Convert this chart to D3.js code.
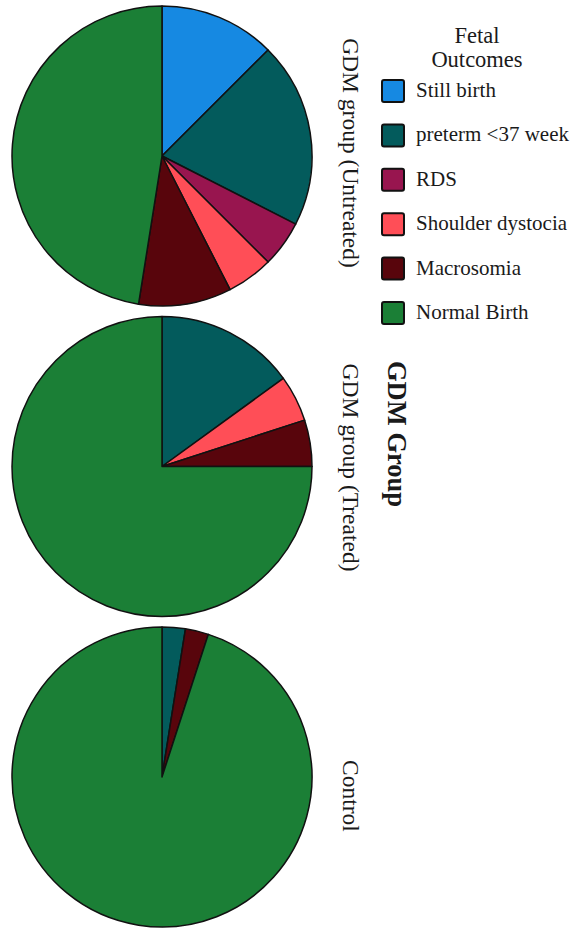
<!DOCTYPE html>
<html>
<head>
    <meta charset="utf-8">
    <title>Fetal Outcomes by GDM Group</title>
    <script src="https://d3js.org/d3.v7.min.js"></script>
    <style>
        body { margin: 0; background: #fff; }
    </style>
</head>
<body>
    <div id="chart"></div>

    <script>
        const serif = "'Liberation Serif', 'Times New Roman', Times, serif";

        // outcome categories and colours
        const outcomes = ["Still birth", "preterm <37 week", "RDS", "Shoulder dystocia", "Macrosomia", "Normal Birth"];
        const colors = ["#1689e2", "#035b5c", "#98154f", "#ff4e57", "#58050c", "#1b7f36"];

        // groups (one pie each), counts per outcome
        const groups = ["GDM group (Untreated)", "GDM group (Treated)", "Control"];
        const untreated = [5, 8, 2, 2, 4, 19];
        const treated = [0, 6, 0, 2, 2, 30];
        const control = [0, 1, 0, 0, 1, 38];
        const series = [untreated, treated, control];

        const width = 573, height = 928;
        const radius = 150;

        const svg = d3.select("#chart")
            .append("svg")
            .attr("width", width)
            .attr("height", height)
            .style("font-family", serif);

        // vertical position of each pie
        const y = d3.scalePoint()
            .domain(groups)
            .range([156, 777]);

        const color = d3.scaleOrdinal()
            .domain(outcomes)
            .range(colors);

        const pie = d3.pie()
            .sort(null)
            .value(d => d.value);

        const arc = d3.arc()
            .innerRadius(0)
            .outerRadius(radius);

        groups.forEach(function(g, i) {
            const rows = outcomes.map((o, j) => ({ outcome: o, value: series[i][j] }));
            const gp = svg.append("g")
                .attr("transform", `translate(162,${y(g)})`);

            gp.selectAll("path")
                .data(pie(rows).filter(d => d.data.value > 0))
                .enter().append("path")
                .attr("d", arc)
                .attr("fill", d => color(d.data.outcome))
                .attr("stroke", "#111")
                .attr("stroke-width", 1.5)
                .attr("stroke-linejoin", "round");

            // group label, rotated to read top to bottom
            const nudge = [-3, 1, 19][i];
            svg.append("text")
                .attr("transform", `translate(343,${y(g) + nudge}) rotate(90)`)
                .attr("text-anchor", "middle")
                .style("font-family", serif)
                .style("font-size", "23.5px")
                .style("fill", "#1a1a1a")
                .text(g);
        });

        // axis title
        svg.append("text")
            .attr("transform", "translate(388,434) rotate(90)")
            .attr("text-anchor", "middle")
            .style("font-family", serif)
            .style("font-size", "26.5px")
            .style("font-weight", "bold")
            .style("fill", "#1a1a1a")
            .text("GDM Group");

        // legend
        const legend = svg.append("g");

        legend.append("text")
            .attr("x", 477)
            .attr("y", 43)
            .attr("text-anchor", "middle")
            .style("font-family", serif)
            .style("font-size", "22.5px")
            .style("fill", "#1a1a1a")
            .text("Fetal");
        legend.append("text")
            .attr("x", 477)
            .attr("y", 67)
            .attr("text-anchor", "middle")
            .style("font-family", serif)
            .style("font-size", "22.5px")
            .style("fill", "#1a1a1a")
            .text("Outcomes");

        const ly = d3.scalePoint()
            .domain(outcomes)
            .range([91, 313]);

        const item = legend.selectAll(".item")
            .data(outcomes)
            .enter().append("g")
            .attr("class", "item")
            .attr("transform", d => `translate(0,${ly(d)})`);

        item.append("rect")
            .attr("x", 382)
            .attr("y", -11)
            .attr("width", 22)
            .attr("height", 22)
            .attr("rx", 2)
            .attr("fill", d => color(d))
            .attr("stroke", "#111")
            .attr("stroke-width", 2);

        item.append("text")
            .attr("x", 416)
            .attr("y", 6)
            .style("font-family", serif)
            .style("font-size", "21px")
            .style("fill", "#1a1a1a")
            .text(d => d);
    </script>
</body>
</html>
